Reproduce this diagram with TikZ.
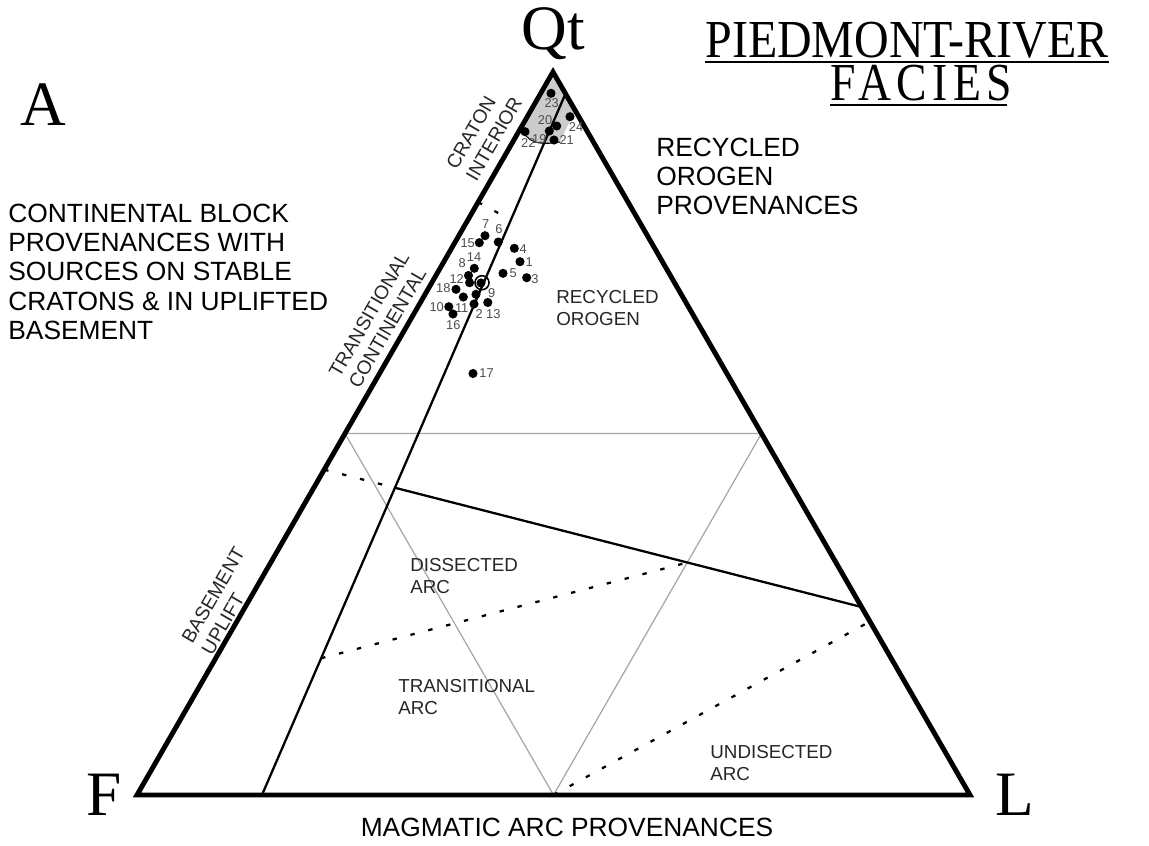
\documentclass[tikz,border=0pt]{standalone}
\usepackage{fontspec}
\setmainfont{Liberation Serif}
\setsansfont{Liberation Sans}
\usetikzlibrary{calc}

\begin{document}
\begin{tikzpicture}[x=0.02cm,y=-0.02cm,
  side/.style={line width=2.8pt,line join=miter},
  field/.style={line width=1.3pt},
  divide/.style={line width=1.3pt,dash pattern=on 2.5pt off 8pt},
  mid/.style={line width=0.7pt,black!35},
  corner/.style={font=\fontsize{36}{36}\selectfont\rmfamily,inner sep=0pt,anchor=base},
  title/.style={font=\fontsize{26}{26}\selectfont\rmfamily,inner sep=0pt,anchor=base},
  big/.style={font=\fontsize{15}{16.7}\selectfont\sffamily,align=left,inner sep=0pt,anchor=north west},
  area/.style={font=\fontsize{10.7}{12.5}\selectfont\sffamily,align=left,inner sep=0pt,anchor=north west,black!85},
  slope/.style={font=\fontsize{11}{13}\selectfont\sffamily,align=left,inner sep=0pt,rotate=60,black!85},
  num/.style={font=\fontsize{7.3}{7.3}\selectfont\sffamily,inner sep=0pt,black!70}]

\useasboundingbox (0,0) rectangle (1149,845);

% corners of the QtFL triangle
\coordinate (Qt) at (553,72);
\coordinate (F) at (137,795);
\coordinate (L) at (970,795);

% field boundaries
\coordinate (ci) at (barycentric cs:Qt=0.97,L=0.03);
\coordinate (cb) at (barycentric cs:F=0.85,L=0.15);
\coordinate (mq) at (barycentric cs:Qt=0.5,F=0.5);
\coordinate (mr) at (barycentric cs:Qt=0.5,L=0.5);
\coordinate (mb) at (barycentric cs:F=0.5,L=0.5);
\coordinate (bu) at (barycentric cs:Qt=0.45,F=0.55);
\coordinate (ro) at (barycentric cs:Qt=0.26,L=0.74);
\coordinate (bi) at (intersection of bu--ro and cb--ci);
\coordinate (da) at (intersection of bu--ro and mr--mb);
\coordinate (ta) at ($(cb)!0.195!(ci)$);
\coordinate (ua) at (barycentric cs:Qt=0.24,L=0.76);
\coordinate (cr) at (barycentric cs:Qt=0.82,F=0.18);
\coordinate (tc) at ($(cb)!0.82!(ci)$);

\fill[black!20] (553,78) -- (523,129) .. controls (530,146) and (546,144) .. (560,142) -- (575,110) -- cycle;
\draw[line width=0.6pt] (523,131) .. controls (530,146) and (546,144) .. (560,142);

\draw[mid] (mq) -- (mr) -- (mb) -- cycle;
\draw[field] (ci) -- (cb);
\draw[divide] (cr) -- (tc);
\draw[divide] (bu) -- (bi);
\draw[field] (bi) -- (ro);
\draw[divide] (ta) -- (da);
\draw[divide] (mb) -- (ua);
\draw[side] (Qt) -- (F) -- (L) -- cycle;

% samples
\foreach \px/\py/\n/\lx/\ly in {520/261.7/1/529.3/261.7, 474/304/2/479.3/314.3,
  526.7/277.7/3/535/279, 514.3/248.3/4/523.3/248.7, 503/273.3/5/513.3/272.7,
  498.3/242/6/499/229.3, 485/235.7/7/485.7/224, 468.5/275.5/8/462.3/262.7,
  476/294.3/9/491.7/293.3, 448.8/306.7/10/436.7/307.3, 463.3/297/11/461.7/307.7,
  469.6/282.7/12/456.7/279.3, 487.8/302.5/13/493.3/314, 474.3/268.3/14/474/257.3,
  479.3/242.7/15/467.7/243.3, 453/314/16/453.3/325, 473/373.5/17/486.5/373.5,
  456/289.3/18/443.3/288.3, 549.3/131/19/539.3/139.3, 556.7/126/20/545/120,
  554/140/21/566.7/140, 525/131.7/22/528.3/143.3, 551/93.3/23/551.7/103.3,
  570/116.7/24/576/126.7}
{
  \fill (\px,\py) circle (2.6pt);
  \node[num] (n\n) at (\lx,\ly) {\n};
}
\draw[line width=0.9pt] (482,282.7) circle (4pt);
\fill (481,283) circle (2.6pt);

\node[corner] (qt) at (553,50) {Qt};
\node[corner] (a) at (43,125) {A};
\node[corner] (f) at (104,815) {F};
\node[corner] (l) at (1015,815) {L};

\node[title] (tt1) at (907,57) {\scalebox{1.05}[1.17]{PIEDMONT-RIVER}};
\node[title] (tt2) at (921.5,100) {\addfontfeature{LetterSpace=12}\scalebox{1}[1.17]{FACIES}};
\draw[line width=1.1pt] ([yshift=-3pt]tt1.base west) -- ([yshift=-3pt]tt1.base east);
\draw[line width=1.1pt] ([yshift=-3pt]tt2.base west) -- ([yshift=-3pt,xshift=-3pt]tt2.base east);

\node[big] (rop) at (656,137.5) {RECYCLED\\OROGEN\\PROVENANCES};
\node[big] (cbp) at (8,203.5) {CONTINENTAL BLOCK\\PROVENANCES WITH\\SOURCES ON STABLE\\CRATONS \& IN UPLIFTED\\BASEMENT};
\node[font=\fontsize{15}{16.7}\selectfont\sffamily,inner sep=0pt,anchor=base] (map) at (567,836.5) {MAGMATIC ARC PROVENANCES};

\node[area] (rec) at (556,290.5) {RECYCLED\\OROGEN};
\node[area] (dis) at (410,558.5) {DISSECTED\\ARC};
\node[area] (tra) at (398,679.5) {TRANSITIONAL\\ARC};
\node[area] (und) at (710,745.5) {UNDISECTED\\ARC};

\node[slope] (cra) at (484,133) {CRATON\\INTERIOR};
\node[slope] (trc) at (379,320) {TRANSITIONAL\\CONTINENTAL};
\node[slope] (bas) at (223,601) {BASEMENT\\UPLIFT};
\end{tikzpicture}
\end{document}
